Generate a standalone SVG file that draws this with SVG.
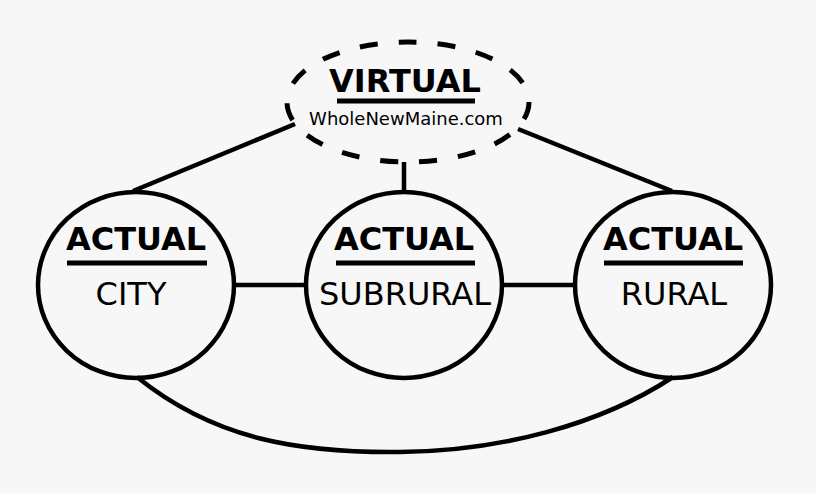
<svg xmlns="http://www.w3.org/2000/svg" width="816" height="493" viewBox="0 0 816 493">
<style>
.bg{fill:#f7f7f7}
.node{fill:none;stroke:#000;stroke-width:4.5}
.dash{fill:none;stroke:#000;stroke-width:5;stroke-dasharray:18 21}
.conn{fill:none;stroke:#000;stroke-width:4.5}
.bar{stroke:#000;stroke-width:5}
.h{font-family:"DejaVu Sans",Verdana,sans-serif;font-weight:bold;font-size:32px;text-anchor:middle;fill:#000}
.t{font-family:"DejaVu Sans",Verdana,sans-serif;font-size:32px;text-anchor:middle;fill:#000}
.s{font-family:"DejaVu Sans",Verdana,sans-serif;font-size:18px;text-anchor:middle;fill:#000}
</style>
<rect class="bg" x="0" y="0" width="816" height="493"/>
<g id="connectors">
<line class="conn" x1="133" y1="191" x2="295" y2="124"/>
<line class="conn" x1="518" y1="129" x2="672" y2="191"/>
<line class="conn" x1="404" y1="162" x2="404" y2="192"/>
<line class="conn" x1="234" y1="285" x2="306" y2="285"/>
<line class="conn" x1="502" y1="285" x2="575" y2="285"/>
<path class="conn" d="M137,377 C215,440 300,453 400,452 C500,451 600,425 673,377"/>
</g>
<g id="virtual">
<ellipse class="dash" cx="408" cy="102" rx="121" ry="60"/>
<text class="h" x="405" y="92">VIRTUAL</text>
<line class="bar" x1="337" y1="101" x2="475" y2="101"/>
<text class="s" x="406" y="125">WholeNewMaine.com</text>
</g>
<g id="city">
<ellipse class="node" cx="136" cy="285" rx="98" ry="93"/>
<text class="h" x="136" y="250">ACTUAL</text>
<line class="bar" x1="67" y1="263" x2="207" y2="263"/>
<text class="t" x="131" y="305">CITY</text>
</g>
<g id="subrural">
<ellipse class="node" cx="404" cy="285" rx="98" ry="93"/>
<text class="h" x="404" y="250">ACTUAL</text>
<line class="bar" x1="336" y1="263" x2="475" y2="263"/>
<text class="t" x="405" y="305">SUBRURAL</text>
</g>
<g id="rural">
<ellipse class="node" cx="673" cy="285" rx="98" ry="93"/>
<text class="h" x="673" y="250">ACTUAL</text>
<line class="bar" x1="604" y1="263" x2="743" y2="263"/>
<text class="t" x="674" y="305">RURAL</text>
</g>
</svg>
